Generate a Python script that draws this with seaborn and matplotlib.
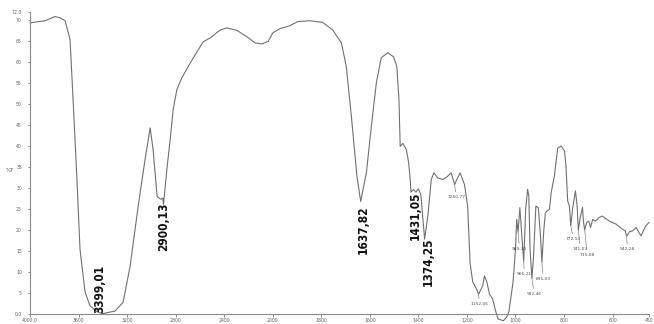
import numpy as np
import pandas as pd
import matplotlib
matplotlib.use("Agg")
import matplotlib.pyplot as plt
import seaborn as sns

# FTIR transmittance spectrum: wavenumber (cm-1) and %T
wavenumber = [
    4000, 3876, 3794, 3753, 3711, 3670, 3645, 3612, 3588, 3546, 3505, 3447,
    3399.01, 3299, 3233, 3175, 3109, 3052, 3010, 2986, 2953, 2922, 2906,
    2900.13, 2870, 2845, 2821, 2790, 2749, 2697, 2639, 2573, 2516, 2433,
    2378, 2295, 2213, 2144, 2089, 2037, 2000, 1971, 1930, 1897, 1848, 1794,
    1753, 1717, 1697, 1676, 1653, 1637.82, 1614, 1594, 1573, 1553, 1526,
    1502, 1489, 1480, 1475, 1464, 1450, 1440, 1433, 1431.05, 1420, 1410,
    1400, 1390, 1374.25, 1361, 1347, 1336, 1320, 1299, 1279, 1265, 1250.77,
    1242, 1228, 1210, 1197, 1187, 1176, 1160, 1152.06, 1135, 1128, 1118,
    1107, 1094, 1080, 1071.00, 1050, 1037, 1027, 1010, 1000, 995, 989.30,
    982, 972, 966.21, 958, 950, 945, 940, 932.46, 926, 916, 906, 898,
    891.03, 884, 877, 871, 860, 853, 840, 826, 812, 798, 792, 785, 778,
    772.14, 765, 753, 746, 741.03, 733, 724, 720, 715.08, 707, 698, 691,
    682, 671, 655, 643, 613, 586, 560, 548, 542.28, 530, 517, 503, 483,
    463, 450,
]
transmittance = [
    69.3, 69.8, 70.8, 70.5, 69.8, 65.3, 51.0, 31.3, 15.4, 5.2, 1.9, 0.5,
    0.1, 0.7, 2.8, 11.4, 25.6, 36.8, 44.3, 39.2, 28.0, 27.3, 27.6,
    26.1, 35.1, 41.5, 48.6, 53.4, 56.2, 58.9, 61.7, 64.8, 65.7, 67.6,
    68.1, 67.5, 66.0, 64.5, 64.3, 64.9, 66.9, 67.9, 68.6, 69.6, 69.8, 69.4,
    67.6, 64.5, 58.9, 47.0, 32.7, 26.8, 33.7, 44.6, 55.1, 61.0, 62.2,
    61.2, 58.9, 51.0, 39.9, 40.6, 39.2, 36.0, 31.5, 29.0, 29.6, 29.0,
    29.8, 28.4, 17.8, 23.3, 32.0, 33.6, 32.4, 32.0, 32.8, 33.6, 30.8,
    32.0, 33.6, 30.8, 25.7, 12.0, 7.6, 5.9, 4.7, 6.7, 9.1, 7.6,
    4.7, 3.6, 0.3, -1.2, -1.6, -0.8, 0.6, 7.6, 15.4, 22.5, 19.5,
    25.3, 17.1, 12.5, 25.0, 29.7, 28.0, 15.4, 8.5, 13.3, 25.7, 25.3, 19.4,
    12.3, 19.5, 24.0, 24.5, 24.9, 28.9, 32.8, 39.5, 40.0, 38.8, 35.2, 26.9, 25.7,
    21.0, 25.0, 29.3, 25.7, 20.0, 23.0, 25.4, 22.0, 20.0, 21.8, 22.1, 20.6,
    22.5, 22.1, 23.0, 23.3, 22.1, 21.4, 20.2, 19.8, 18.5, 19.6, 19.8, 20.6, 18.6,
    21.0, 21.8,
]

# Band labels
major_bands = ["3399,01", "2900,13", "1637,82", "1431,05", "1374,25"]
major_band_wn = [3399.01, 2900.13, 1637.82, 1431.05, 1374.25]
minor_bands = ["1250,77", "1152,06", "1071,00", "989,30", "966,21", "932,46",
               "891,03", "772,14", "741,03", "715,08", "542,28"]
minor_band_wn = [1250.77, 1152.06, 1071.00, 989.30, 966.21, 932.46,
                 891.03, 772.14, 741.03, 715.08, 542.28]

# Axis ticks
x_ticks = [4000, 3600, 3200, 2800, 2400, 2000, 1800, 1600, 1400, 1200, 1000, 800, 600, 450]
x_tick_labels = ["4000.0", "3600", "3200", "2800", "2400", "2000", "1800", "1600",
                 "1400", "1200", "1000", "800", "600", "450"]
y_ticks = [0, 5, 10, 15, 20, 25, 30, 35, 40, 45, 50, 55, 60, 65, 70, 72]
y_tick_labels = ["0.0", "5", "10", "15", "20", "25", "30", "35", "40", "45",
                 "50", "55", "60", "65", "70", "72.0"]

df = pd.DataFrame({"wn": wavenumber, "T": transmittance})
lookup = dict(zip(wavenumber, transmittance))

sns.set_style("ticks")
plt.rcParams["font.family"] = ["DejaVu Sans"]

fig = plt.figure(figsize=(6.54, 3.24), dpi=100)
ax = fig.add_axes([30 / 654, 10 / 324, 619 / 654, 302.5 / 324])


# the spectrometer's split scale: above 2000 cm-1 compressed by half
def fwd(w):
    w = np.asarray(w, dtype=float)
    return np.where(w > 2000, 2000 + (w - 2000) / 2.0, w)


def inv(p):
    p = np.asarray(p, dtype=float)
    return np.where(p > 2000, 2000 + (p - 2000) * 2.0, p)


ax.set_xscale("function", functions=(fwd, inv))

sns.lineplot(data=df, x="wn", y="T", color="#707070", linewidth=0.8,
             sort=False, estimator=None, ax=ax)
for ln in ax.lines:
    ln.set_clip_on(False)

ax.set_xlim(4000, 450)
ax.set_ylim(0, 72)
ax.set_xticks(x_ticks)
ax.set_xticklabels(x_tick_labels)
ax.set_yticks(y_ticks)
ax.set_yticklabels(y_tick_labels)
ax.minorticks_off()
ax.tick_params(axis="both", labelsize=3.3, colors="#606060", length=1.8,
               width=0.5, pad=1)
ax.tick_params(axis="y", pad=4)
ax.set_xlabel("")
ax.set_ylabel("")
for side in ("top", "right"):
    ax.spines[side].set_visible(False)
for side in ("left", "bottom"):
    ax.spines[side].set_color("#8a8a8a")
    ax.spines[side].set_linewidth(0.8)

fig.text(10 / 654, 1 - 170 / 324, "%T", fontsize=3.8, color="#505050",
         ha="center", va="center")

# large vertical band labels (offsets in points from the band minimum)
major_offsets = [(-2.2, 17.7), (0.4, -16.2), (1.8, -20.5), (3.4, -17.1), (2.8, -16.2)]
for s, w, off in zip(major_bands, major_band_wn, major_offsets):
    ax.annotate(s, xy=(w, lookup[w]), xytext=off, textcoords="offset points",
                rotation=90, ha="center", va="center", fontsize=8.6,
                fontweight="bold", fontstretch="condensed",
                family="DejaVu Sans", color="#111111")

# small band labels with leader lines
minor_offsets = [(1.2, -9.2), (0.7, -7.2), (0.9, 14.4), (1.0, -12.2), (0.5, -9.1),
                 (1.8, -11.4), (1.0, -12.1), (1.9, -9.7), (1.4, -13.9),
                 (1.9, -18.2), (0.7, -9.4)]
for s, w, off in zip(minor_bands, minor_band_wn, minor_offsets):
    ax.annotate(s, xy=(w, lookup[w]), xytext=off, textcoords="offset points",
                ha="center", va="center", fontsize=3.2, color="#505050",
                arrowprops=dict(arrowstyle="-", color="#808080", lw=0.5,
                                shrinkA=0.3, shrinkB=0.3))

fig.savefig("out.png", dpi=100)
